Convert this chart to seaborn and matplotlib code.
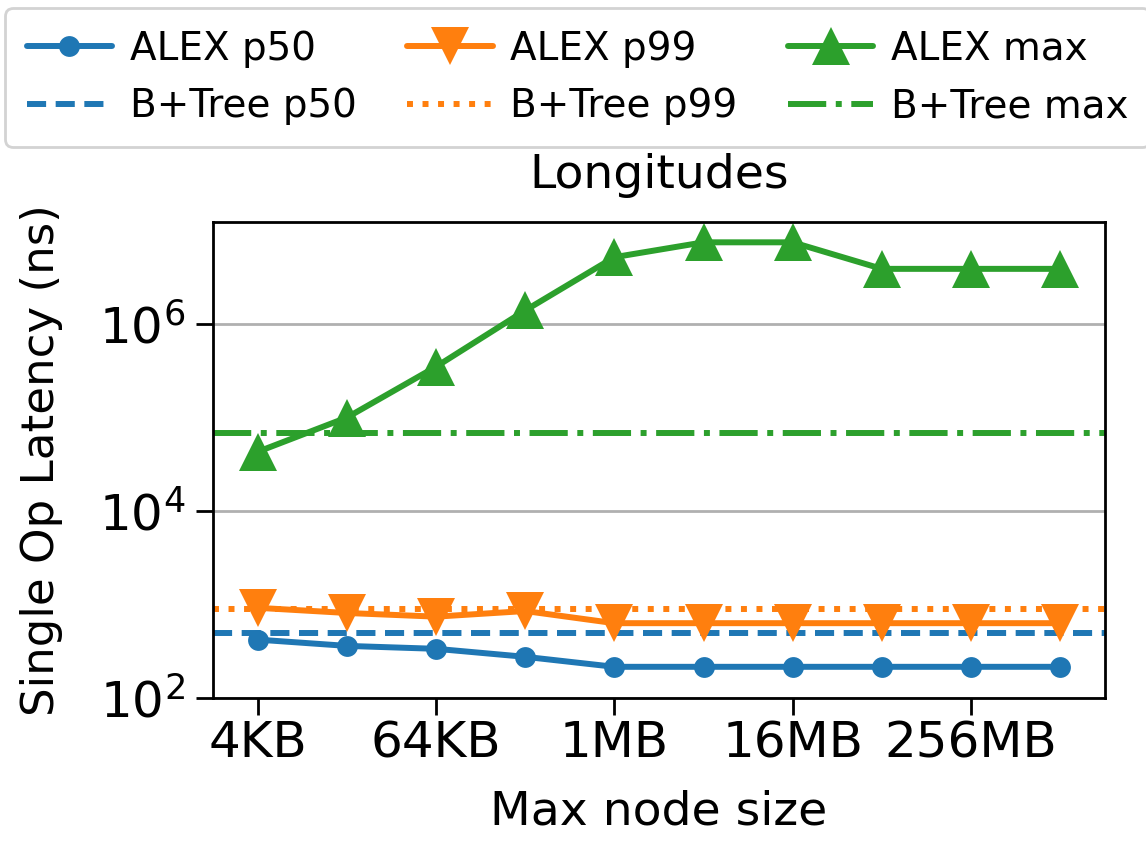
"""Latency vs max node size for ALEX and B+Tree, Longitudes dataset"""

import pandas as pd
import matplotlib.pyplot as plt
import seaborn as sns
from matplotlib.ticker import NullLocator

node_sizes = ["4KB", "16KB", "64KB", "256KB", "1MB", "4MB", "16MB", "64MB", "256MB", "1GB"]
alex_p50 = [420, 360, 335, 275, 215, 215, 215, 215, 215, 215]
alex_p99 = [920, 810, 740, 850, 630, 630, 630, 630, 630, 630]
alex_max = [4.3e4, 1.0e5, 3.5e5, 1.4e6, 5.2e6, 7.5e6, 7.5e6, 3.9e6, 3.9e6, 3.9e6]
btree_p50 = 495
btree_p99 = 900
btree_max = 6.8e4

sns.set_style("ticks", rc={
    "text.color": "black",
    "axes.labelcolor": "black",
    "xtick.color": "black",
    "ytick.color": "black",
    "axes.edgecolor": "black",
})
plt.rcParams["font.family"] = ["DejaVu Sans"]

df = pd.DataFrame({
    "pos": range(len(node_sizes)),
    "p50": alex_p50,
    "p99": alex_p99,
    "max": alex_max,
})

colors = sns.color_palette("tab10")
fig = plt.figure(figsize=(11.46, 8.49), dpi=100)
ax = fig.add_axes([0.186, 0.178, 0.778, 0.561])

lw = 4.3
sns.lineplot(data=df, x="pos", y="p50", ax=ax, color=colors[0], lw=lw,
             marker="o", markersize=15, markeredgewidth=0, label="ALEX p50")
ax.axhline(btree_p50, color=colors[0], lw=lw, ls=(0, (3.2, 1.6)), label="B+Tree p50")
sns.lineplot(data=df, x="pos", y="p99", ax=ax, color=colors[1], lw=lw,
             marker="v", markersize=27, markeredgewidth=0, label="ALEX p99")
ax.axhline(btree_p99, color=colors[1], lw=lw, ls=(0, (1, 1.6)), label="B+Tree p99")
sns.lineplot(data=df, x="pos", y="max", ax=ax, color=colors[2], lw=lw,
             marker="^", markersize=27, markeredgewidth=0, label="ALEX max")
ax.axhline(btree_max, color=colors[2], lw=lw, ls=(0, (6.4, 1.6, 1, 1.6)), label="B+Tree max")

ax.set_yscale("log")
ax.set_ylim(100, 1.25e7)
ax.set_yticks([1e2, 1e4, 1e6])
ax.yaxis.set_minor_locator(NullLocator())
ax.set_xlim(-0.5, 9.5)
ax.set_xticks(range(0, len(node_sizes), 2))
ax.set_xticklabels(node_sizes[::2])
ax.grid(axis="y", color="#b0b0b0", lw=2)
ax.set_axisbelow(True)
for s in ax.spines.values():
    s.set_linewidth(2)
ax.tick_params(labelsize=36, length=12, width=2)
ax.tick_params(axis="y", pad=8)

ax.set_title("Longitudes", fontsize=34, pad=24)
ax.set_xlabel("Max node size", fontsize=34, labelpad=16)
ax.set_ylabel("Single Op Latency (ns)", fontsize=32.5, labelpad=26)

handles, labels = ax.get_legend_handles_labels()
ax.get_legend().remove()
leg = fig.legend(handles, labels, ncol=3, loc="upper left", bbox_to_anchor=(0.0045, 0.99),
                 borderaxespad=0, fontsize=28, frameon=True, edgecolor="#c8c8c8",
                 fancybox=True, columnspacing=1.3, handlelength=2.2, handletextpad=0.45,
                 labelspacing=0.5, borderpad=0.55)
leg.get_frame().set_linewidth(2)

plt.savefig("out.png", dpi=100)
plt.close(fig)
